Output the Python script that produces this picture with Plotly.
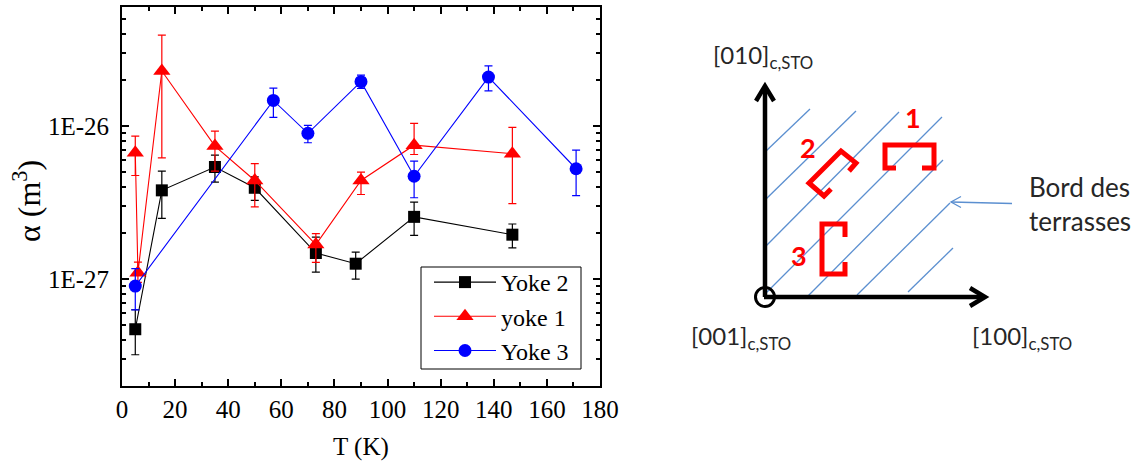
import plotly.graph_objects as go
import math

# ---------------- data ----------------
T_yoke2 = [5, 15, 35, 50, 73, 88, 110, 147]
a_yoke2 = [4.7e-28, 3.8e-27, 5.4e-27, 3.95e-27, 1.48e-27, 1.26e-27, 2.55e-27, 1.95e-27]
hi_yoke2 = [6.3e-28, 5.07e-27, 6.45e-27, 4.66e-27, 1.88e-27, 1.50e-27, 3.18e-27, 2.29e-27]
lo_yoke2 = [3.2e-28, 2.49e-27, 4.30e-27, 3.27e-27, 1.11e-27, 1.0e-27, 1.93e-27, 1.60e-27]

T_yoke1 = [5, 6, 15, 35, 50, 73, 90, 110, 147]
a_yoke1 = [6.7e-27, 1.10e-27, 2.29e-26, 7.4e-27, 4.41e-27, 1.68e-27, 4.41e-27, 7.5e-27, 6.6e-27]
hi_yoke1 = [8.6e-27, 1.29e-27, 3.93e-26, 9.27e-27, 5.69e-27, 1.98e-27, 5.0e-27, 1.04e-26, 9.8e-27]
lo_yoke1 = [4.75e-27, 9.5e-28, 6.2e-27, 5.07e-27, 2.96e-27, 1.285e-27, 3.57e-27, 6.52e-27, 3.11e-27]

T_yoke3 = [5, 57, 70, 90, 110, 138, 171]
a_yoke3 = [9.0e-28, 1.47e-26, 8.96e-27, 1.95e-26, 4.70e-27, 2.09e-26, 5.26e-27]
hi_yoke3 = [1.17e-27, 1.77e-26, 1.01e-26, 2.15e-26, 5.90e-27, 2.47e-26, 6.96e-27]
lo_yoke3 = [6.29e-28, 1.14e-26, 7.78e-27, 1.76e-26, 3.40e-27, 1.70e-26, 3.51e-27]

x_ticks = [0, 20, 40, 60, 80, 100, 120, 140, 160, 180]
y_ticks = [1e-27, 1e-26]
y_tick_labels = ["1E-27", "1E-26"]
y_minor = [m * 10.0 ** e for e in (-28, -27, -26) for m in range(2, 10)]

# ---------------- schematic geometry (pixels in the 1134x463 page) ----------------
W, H = 1134, 463
HATCH = [((765, 152), (810, 109)), ((765, 200), (856, 111)), ((765, 247), (899, 112)),
         ((765, 294), (942, 117)), ((808, 296), (943, 160)), ((857, 295), (950, 203)),
         ((908, 292), (953, 248))]
BRACKETS = [
    [(896, 168), (885, 168), (885, 145), (934, 145), (934, 168), (922, 168)],
    [(849, 171), (856, 163), (841, 151), (809, 183), (824, 196), (831, 189)],
    [(845, 237), (845, 224), (822, 224), (822, 274), (845, 274), (845, 262)],
]
BRACKET_LABELS = [("1", 913, 118), ("2", 808, 147), ("3", 799, 255)]
LEGEND_BOX = (421, 267, 581, 369)


def px(x):
    return x / W


def py(y):
    return 1 - y / H


def path(points):
    return "M " + " L ".join(f"{px(x):.5f},{py(y):.5f}" for x, y in points)


SERIF = "Liberation Serif"
SANS = "Lato"

fig = go.Figure()


def add_series(T, a, hi, lo, name, color, symbol, size):
    fig.add_trace(go.Scatter(
        x=T, y=a, name=name, mode="lines+markers",
        line=dict(color=color, width=1.1),
        marker=dict(symbol=symbol, size=size, color=color),
        error_y=dict(type="data", symmetric=False,
                     array=[h - v for h, v in zip(hi, a)],
                     arrayminus=[v - l for v, l in zip(a, lo)],
                     color=color, thickness=1.2, width=4),
    ))


add_series(T_yoke2, a_yoke2, hi_yoke2, lo_yoke2, "Yoke 2", "black", "square", 12)
add_series(T_yoke1, a_yoke1, hi_yoke1, lo_yoke1, "yoke 1", "#ff0000", "triangle-up", 15)
add_series(T_yoke3, a_yoke3, hi_yoke3, lo_yoke3, "Yoke 3", "#0000ff", "circle", 13)

axis_common = dict(showline=True, linecolor="black", linewidth=1.8, mirror="ticks",
                   ticks="inside", tickcolor="black", tickwidth=1.5, ticklen=7,
                   showgrid=False, zeroline=False, automargin=False,
                   tickfont=dict(family=SERIF, size=25, color="black"))

fig.update_xaxes(domain=[122 / W, 600 / W], range=[0, 180], tickvals=x_ticks,
                 minor=dict(dtick=10, tick0=0, ticks="inside", ticklen=4,
                            tickcolor="black", tickwidth=1.5, showgrid=False),
                 ticklabelstandoff=0, **axis_common)
fig.update_yaxes(type="log", domain=[1 - 386 / H, 1 - 7 / H],
                 range=[math.log10(2e-28), math.log10(6e-26)],
                 tickvals=y_ticks, ticktext=y_tick_labels,
                 minor=dict(tickvals=y_minor, ticks="inside", ticklen=4.5,
                            tickcolor="black", tickwidth=1.5, showgrid=False),
                 ticklabelstandoff=6, **axis_common)

shapes = []
# legend frame (white box drawn above the data, legend entries on top of it)
lx0, ly0, lx1, ly1 = LEGEND_BOX
shapes.append(dict(type="rect", xref="paper", yref="paper", layer="above",
                   x0=px(lx0), x1=px(lx1), y0=py(ly1), y1=py(ly0),
                   fillcolor="white", line=dict(color="black", width=1)))
for (x0, y0), (x1, y1) in HATCH:
    shapes.append(dict(type="line", xref="paper", yref="paper",
                       x0=px(x0), y0=py(y0), x1=px(x1), y1=py(y1),
                       line=dict(color="#5b8fd0", width=1.3)))
# axes arrows of the schematic
shapes.append(dict(type="line", xref="paper", yref="paper", x0=px(765), y0=py(297),
                   x1=px(765), y1=py(87), line=dict(color="black", width=4.5)))
shapes.append(dict(type="line", xref="paper", yref="paper", x0=px(764), y0=py(297),
                   x1=px(984), y1=py(297), line=dict(color="black", width=4.5)))
shapes.append(dict(type="path", xref="paper", yref="paper",
                   path=path([(756, 101), (765, 86), (774, 101)]),
                   line=dict(color="black", width=4.5)))
shapes.append(dict(type="path", xref="paper", yref="paper",
                   path=path([(970, 288), (985, 297), (970, 306)]),
                   line=dict(color="black", width=4.5)))
shapes.append(dict(type="circle", xref="paper", yref="paper",
                   x0=px(755.5), x1=px(774.5), y0=py(306.5), y1=py(287.5),
                   line=dict(color="black", width=3)))
for b in BRACKETS:
    shapes.append(dict(type="path", xref="paper", yref="paper", path=path(b),
                       line=dict(color="#ff0000", width=5)))
# pointer to terrace edge
shapes.append(dict(type="line", xref="paper", yref="paper", x0=px(1012), y0=py(203.5),
                   x1=px(951), y1=py(202), line=dict(color="#5b8fd0", width=1.3)))
shapes.append(dict(type="path", xref="paper", yref="paper",
                   path=path([(961, 196.5), (951, 202), (961, 207.5)]),
                   line=dict(color="#5b8fd0", width=1.3)))

annotations = [
    dict(text="T (K)", x=px(361), y=py(463), yanchor="bottom",
         font=dict(family=SERIF, size=25, color="black")),
    dict(text="α (m<sup>3</sup>)", x=px(27), y=py(201), textangle=-90,
         font=dict(family=SERIF, size=32, color="black")),
    dict(text="[010]<sub>c,STO</sub>", x=px(711), y=py(57), xanchor="left",
         font=dict(family=SANS, size=24, color="#262626")),
    dict(text="[001]<sub>c,STO</sub>", x=px(689), y=py(337), xanchor="left",
         font=dict(family=SANS, size=24, color="#262626")),
    dict(text="[100]<sub>c,STO</sub>", x=px(970), y=py(337), xanchor="left",
         font=dict(family=SANS, size=24, color="#262626")),
    dict(text="Bord des<br>terrasses", x=px(1027), y=py(204), xanchor="left", align="left",
         font=dict(family=SANS, size=26, color="#262626")),
]
for t, x, y in BRACKET_LABELS:
    annotations.append(dict(text=f"<b>{t}</b>", x=px(x), y=py(y),
                            font=dict(family=SANS, size=27, color="#ff0000")))
for a in annotations:
    a.update(xref="paper", yref="paper", showarrow=False)
    a.setdefault("xanchor", "center")
    a.setdefault("yanchor", "middle")

fig.update_layout(
    width=W, height=H, margin=dict(l=0, r=0, t=0, b=0),
    paper_bgcolor="white", plot_bgcolor="white",
    shapes=shapes, annotations=annotations,
    legend=dict(x=429 / W, y=1 - 260 / H, xanchor="left", yanchor="top",
                bgcolor="rgba(0,0,0,0)", borderwidth=0,
                font=dict(family=SERIF, size=24, color="black"),
                itemwidth=62, tracegroupgap=0),
)

fig.write_html("out.html", config={"displayModeBar": False},
               post_script="document.body.style.margin='0';")
